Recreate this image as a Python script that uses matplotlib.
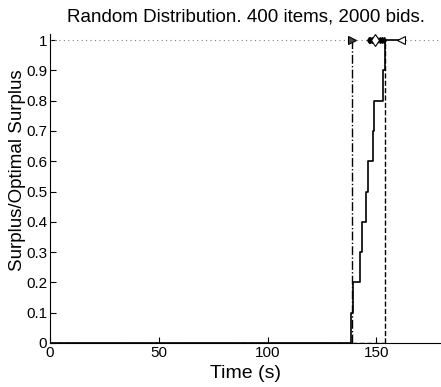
import matplotlib
matplotlib.use("Agg")
import matplotlib.pyplot as plt

plt.rcParams['font.family'] = ['Liberation Sans', 'DejaVu Sans']

# surplus step curve
times = [0, 138.4, 139.3, 142.3, 143.3, 145.3, 146.3, 148.3, 149.1, 152.9, 154.0, 161.3]
surplus = [0, 0.1, 0.2, 0.3, 0.4, 0.5, 0.6, 0.7, 0.8, 0.9, 1.0, 1.0]

t_first = 138.6     # dash-dot marker line
t_last = 154.0      # dashed marker line
t_end = 161.3
diamond_t = [149.2]
dots_t = [146.5, 147.3, 148.0, 150.5, 151.5, 152.5, 153.3]

fig = plt.figure(figsize=(4.41, 3.87), dpi=100)
ax = fig.add_axes([0.1134, 0.1137, 0.888, 0.7985])

ax.axhline(1, color='#808080', ls=(0, (1, 3)), lw=0.8)
ax.plot([0, t_last], [0, 0], color='k', ls='--', lw=1)
ax.plot([t_first, t_first], [0, 1], color='k', ls='-.', lw=1)
ax.plot([t_last, t_last], [0, 1], color='k', ls='--', lw=1)
ax.step(times, surplus, where='post', color='k', lw=1.2)
ax.plot([t_first], [1], marker='>', ms=6, mfc='#444444', mec='k', mew=0.8)
ax.plot([t_end], [1], marker='<', ms=6, mfc='white', mec='k', mew=0.8)
ax.plot(dots_t, [1] * len(dots_t), 'k', marker='d', ms=3, lw=1.5)
ax.plot(diamond_t, [1], marker='d', ms=6, mfc='white', mec='k', mew=0.8)

ax.set_xlim(0, 180)
ax.set_ylim(0, 1.02)
ax.set_xticks([0, 50, 100, 150])
ax.set_yticks([0, 0.1, 0.2, 0.3, 0.4, 0.5, 0.6, 0.7, 0.8, 0.9, 1])
ax.set_yticklabels(['0', '0.1', '0.2', '0.3', '0.4', '0.5', '0.6', '0.7', '0.8', '0.9', '1'])
ax.tick_params(direction='in', length=4, labelsize=11, pad=2)
for s in ['top', 'right']:
    ax.spines[s].set_visible(False)

ax.set_xlabel('Time (s)', fontsize=14, labelpad=4)
ax.set_ylabel('Surplus/Optimal Surplus', fontsize=13.5)
ax.yaxis.set_label_coords(-0.062, 0.56)
ax.set_title('Random Distribution. 400 items, 2000 bids.', fontsize=13.5, pad=9)

fig.savefig('out.png', dpi=100)
